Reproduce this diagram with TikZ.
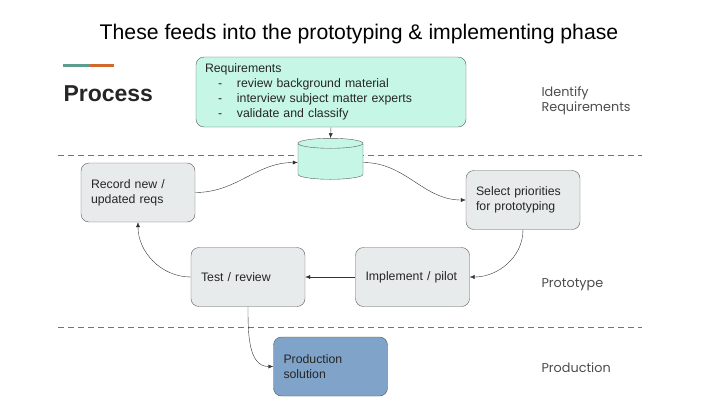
\documentclass[tikz,border=0pt]{standalone}
\usepackage{fontspec}
\setmainfont{Liberation Sans}
\newfontfamily\phasefont{Poppins}
\usetikzlibrary{arrows.meta,shapes.geometric}

\definecolor{mint}{HTML}{C6F7E6}
\definecolor{boxgray}{HTML}{E8EBEC}
\definecolor{prodblue}{HTML}{7FA3C9}
\definecolor{edgegray}{HTML}{5A5A5A}
\definecolor{accentteal}{HTML}{5E9E90}
\definecolor{accentorange}{HTML}{D0692A}

\tikzset{
  stepbox/.style={draw=edgegray, fill=boxgray, rounded corners=8pt, minimum height=59pt,
    text width=94pt, inner xsep=10pt, align=left, font=\fontsize{12.3}{15}\selectfont, text=black!85},
  flow/.style={-{Latex[length=5pt,width=4pt]}, draw=black!80, thin},
  phase/.style={anchor=west, align=left, font=\phasefont\fontsize{12.8}{14.5}\selectfont, text=black!70},
}

\begin{document}
\begin{tikzpicture}[x=1pt,y=-1pt]
\useasboundingbox (0,0) rectangle (720,405);

\node (title) at (359,34) {\fontsize{21.2}{24}\selectfont These feeds into the prototyping \& implementing phase};

\draw[accentteal, line width=3pt] (63,65) -- (90,65);
\draw[accentorange, line width=3pt] (90,65) -- (114,65);
\node[anchor=west, font=\bfseries\fontsize{23}{26}\selectfont, text=black!85] (process) at (60,94) {Process};

\foreach \y in {155,327}
  \draw[black!55, dash pattern=on 6pt off 4pt] (58,\y) -- (642,\y);

\node[stepbox, fill=mint, text width=252pt, inner xsep=9pt, minimum height=70pt] (reqs) at (331,92)
  {Requirements\\
   \makebox[32pt][l]{\hspace*{13pt}-}review background material\\
   \makebox[32pt][l]{\hspace*{13pt}-}interview subject matter experts\\
   \makebox[32pt][l]{\hspace*{13pt}-}validate and classify};
\node[cylinder, shape border rotate=90, aspect=1.5, draw=edgegray, fill=mint,
  minimum width=65pt, minimum height=41pt] (store) at (330.5,162.5) {};

\node[stepbox] (record) at (138,192.5) {Record new /\\updated reqs};
\node[stepbox] (select) at (523,200) {Select priorities\\for prototyping};
\node[stepbox] (implement) at (412.5,277) {Implement / pilot};
\node[stepbox] (test) at (248,277) {Test / review};
\node[stepbox, fill=prodblue] (production) at (330.5,366.5) {Production\\solution};

\draw[flow] (reqs.south) -- (store.top);
\draw[flow] (record.east) to[out=0,in=180] (store.west);
\draw[flow] (store.east) to[out=0,in=180] (select.west);
\draw[flow] (select.south) to[out=-90,in=0] (implement.east);
\draw[flow] (implement.west) -- (test.east);
\draw[flow] (test.west) to[out=180,in=-90] (record.south);
\draw[flow] (test.south) to[out=-90,in=180] (production.west);

\node[phase] (identify) at (538,101) {Identify\\Requirements};
\node[phase] (prototype) at (538,285) {Prototype};
\node[phase] (release) at (538,368) {Production};
\end{tikzpicture}
\end{document}
